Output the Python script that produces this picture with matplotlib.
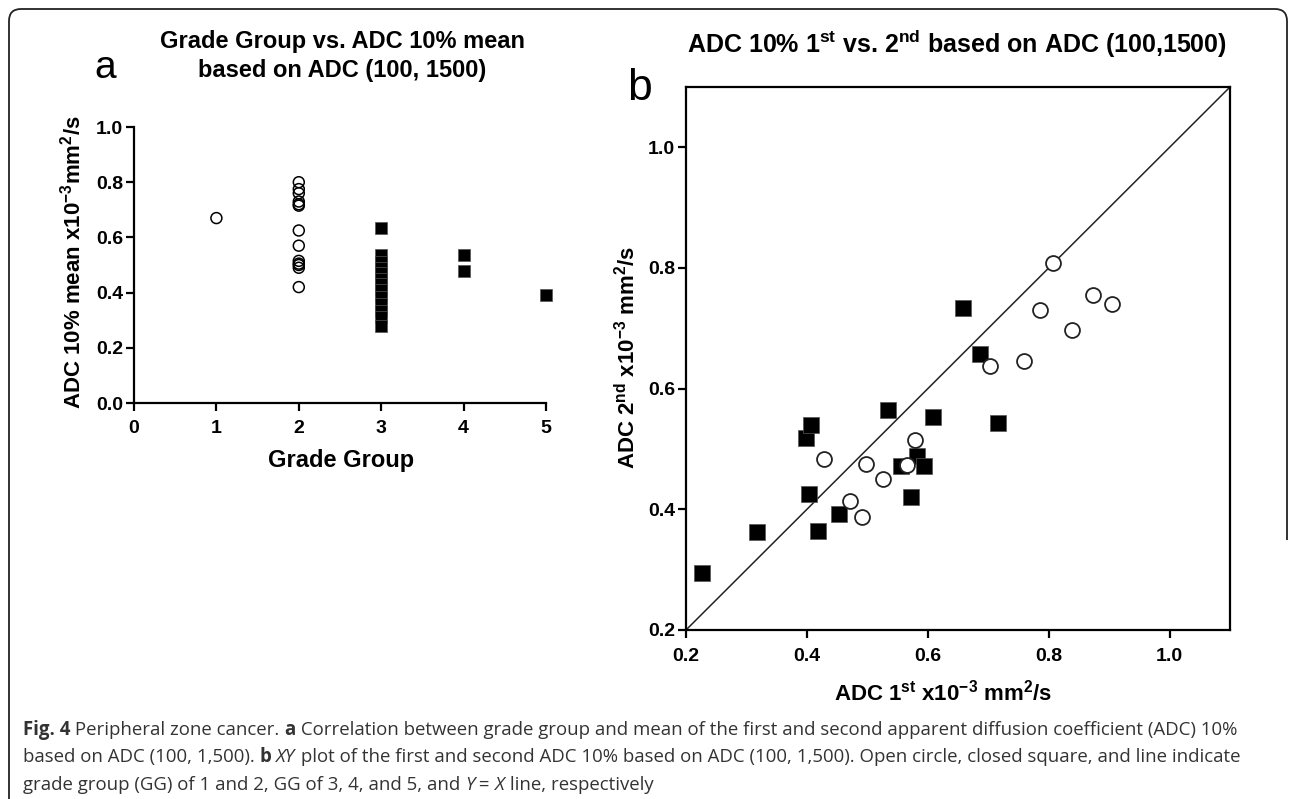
import matplotlib
matplotlib.use("Agg")
import matplotlib.pyplot as plt
from matplotlib.path import Path
from matplotlib.patches import PathPatch

# Panel a: grade group vs. ADC 10% mean
a_circle_group = [1] + [2] * 13
a_circle_adc = [0.67, 0.80, 0.775, 0.76, 0.73, 0.72, 0.715, 0.625, 0.57,
                0.515, 0.505, 0.50, 0.49, 0.42]
a_square_group = [3] * 13 + [4, 4, 5]
a_square_adc = [0.635, 0.535, 0.51, 0.49, 0.47, 0.45, 0.43, 0.41, 0.385,
                0.36, 0.335, 0.31, 0.28, 0.535, 0.48, 0.39]
a_xticks = [0, 1, 2, 3, 4, 5]
a_yticks = [0.0, 0.2, 0.4, 0.6, 0.8, 1.0]

# Panel b: ADC 1st vs 2nd (open circle GG 1-2, closed square GG 3-5)
b_circle_1st = [0.428, 0.471, 0.492, 0.497, 0.526, 0.565, 0.579, 0.703,
                0.759, 0.785, 0.807, 0.838, 0.874, 0.904]
b_circle_2nd = [0.483, 0.414, 0.388, 0.475, 0.451, 0.473, 0.515, 0.637,
                0.646, 0.731, 0.809, 0.697, 0.755, 0.741]
b_square_1st = [0.226, 0.318, 0.399, 0.407, 0.404, 0.419, 0.453, 0.534,
                0.556, 0.572, 0.582, 0.593, 0.608, 0.659, 0.686, 0.716]
b_square_2nd = [0.294, 0.363, 0.519, 0.540, 0.425, 0.364, 0.393, 0.565,
                0.472, 0.421, 0.488, 0.472, 0.553, 0.733, 0.657, 0.543]
b_ticks = [0.2, 0.4, 0.6, 0.8, 1.0]
b_limits = [0.2, 1.1]

caption_lines = [
    [("Fig. 4", "bold", "normal"), (" Peripheral zone cancer. ", "normal", "normal"),
     ("a", "bold", "normal"),
     (" Correlation between grade group and mean of the first and second apparent diffusion coefficient (ADC) 10%",
      "normal", "normal")],
    [("based on ADC (100, 1,500). ", "normal", "normal"), ("b", "bold", "normal"),
     (" ", "normal", "normal"), ("XY", "normal", "italic"),
     (" plot of the first and second ADC 10% based on ADC (100, 1,500). Open circle, closed square, and line indicate",
      "normal", "normal")],
    [("grade group (GG) of 1 and 2, GG of 3, 4, and 5, and ", "normal", "normal"),
     ("Y", "normal", "italic"), (" = ", "normal", "normal"), ("X", "normal", "italic"),
     (" line, respectively", "normal", "normal")],
]

W, H = 1292, 799
plt.rcParams["font.family"] = ["Liberation Sans", "DejaVu Sans"]
plt.rcParams["mathtext.fontset"] = "custom"
plt.rcParams["mathtext.rm"] = "Liberation Sans:bold"
plt.rcParams["mathtext.bf"] = "Liberation Sans:bold"
plt.rcParams["mathtext.it"] = "Liberation Sans:italic:bold"


def fx(x):
    return x / W


def fy(y):
    return 1 - y / H


fig = plt.figure(figsize=(W / 100, H / 100), dpi=100)

# outer frame with rounded top corners
r = 12
verts = [(9, H + 5), (9, 9 + r), (9, 9), (9 + r, 9), (1287 - r, 9), (1287, 9),
         (1287, 9 + r), (1287, 540)]
codes = [Path.MOVETO, Path.LINETO, Path.CURVE3, Path.CURVE3, Path.LINETO,
         Path.CURVE3, Path.CURVE3, Path.LINETO]
frame = Path([(fx(x), fy(y)) for x, y in verts], codes)
fig.add_artist(PathPatch(frame, fill=False, lw=1.3, edgecolor="#222222",
                         transform=fig.transFigure))

# ---- panel a ----
ax0 = fig.add_axes([fx(134), fy(403), (546 - 134) / W, (403 - 127) / H])
ax0.scatter(a_circle_group, a_circle_adc, s=62, marker="o", facecolors="none",
            edgecolors="black", linewidths=1.1, clip_on=False, zorder=3)
ax0.scatter(a_square_group, a_square_adc, s=72, marker="s", color="black",
            linewidths=0.5, edgecolors="#555555", clip_on=False, zorder=3)
ax0.set_xlim(0, 5)
ax0.set_ylim(0, 1.0)
ax0.set_xticks(a_xticks)
ax0.set_yticks(a_yticks)
ax0.set_yticklabels([f"{v:.1f}" for v in a_yticks])
for s in ["top", "right"]:
    ax0.spines[s].set_visible(False)
for s in ["left", "bottom"]:
    ax0.spines[s].set_linewidth(1.6)
ax0.tick_params(direction="out", length=6, width=1.6, labelsize=14, pad=2)
ax0.tick_params(axis="x", pad=6)
for lab in ax0.get_xticklabels() + ax0.get_yticklabels():
    lab.set_fontweight("bold")

fig.text(fx(342), fy(48), "Grade Group vs. ADC 10% mean", ha="center",
         va="baseline", fontsize=17, fontweight="bold")
fig.text(fx(342), fy(77), "based on ADC (100, 1500)", ha="center",
         va="baseline", fontsize=17, fontweight="bold")
fig.text(fx(105), fy(78), "a", ha="center", va="baseline", fontsize=28)
fig.text(fx(73), fy(262), r"ADC 10% mean x10$^{-3}$mm$^{2}$/s", rotation=90,
         ha="center", va="center", fontsize=16, fontweight="bold")
fig.text(fx(341), fy(460), "Grade Group", ha="center", va="center",
         fontsize=17, fontweight="bold")

# ---- panel b ----
ax1 = fig.add_axes([fx(686), fy(630), (1230 - 686) / W, (630 - 87) / H])
ax1.plot(b_limits, b_limits, color="#222222", lw=1.1, zorder=2)
ax1.scatter(b_square_1st, b_square_2nd, s=120, marker="s", color="black",
            linewidths=0.5, edgecolors="#555555", zorder=3)
ax1.scatter(b_circle_1st, b_circle_2nd, s=115, marker="o", facecolors="white",
            edgecolors="#222222", linewidths=1.3, zorder=4)
ax1.set_xlim(b_limits)
ax1.set_ylim(b_limits)
ax1.set_xticks(b_ticks)
ax1.set_yticks(b_ticks)
ax1.set_xticklabels([f"{v:.1f}" for v in b_ticks])
ax1.set_yticklabels([f"{v:.1f}" for v in b_ticks])
for s in ax1.spines.values():
    s.set_linewidth(1.6)
ax1.tick_params(direction="out", length=6, width=1.6, labelsize=14, pad=2)
ax1.tick_params(axis="x", pad=7)
for lab in ax1.get_xticklabels() + ax1.get_yticklabels():
    lab.set_fontweight("bold")

fig.text(fx(957), fy(53),
         r"ADC 10% 1$^{\mathrm{st}}$ vs. 2$^{\mathrm{nd}}$ based on ADC (100,1500)",
         ha="center", va="baseline", fontsize=18, fontweight="bold")
fig.text(fx(640), fy(100), "b", ha="center", va="baseline", fontsize=32)
fig.text(fx(628), fy(357), r"ADC 2$^{\mathrm{nd}}$ x10$^{-3}$ mm$^{2}$/s", rotation=90,
         ha="center", va="center", fontsize=16, fontweight="bold")
fig.text(fx(943), fy(693), r"ADC 1$^{\mathrm{st}}$ x10$^{-3}$ mm$^{2}$/s", ha="center",
         va="center", fontsize=16, fontweight="bold")

# ---- caption, drawn run by run ----
renderer = fig.canvas.get_renderer()
cap_kw = dict(fontsize=13.45, family=["Open Sans", "DejaVu Sans"], color="#333333")


def run_width(text, weight, style):
    # measure with guard characters so edge spaces count
    t1 = fig.text(0, 0, "|" + text + "|", fontweight=weight, style=style, **cap_kw)
    t2 = fig.text(0, 0, "||", fontweight=weight, style=style, **cap_kw)
    w = t1.get_window_extent(renderer).width - t2.get_window_extent(renderer).width
    t1.remove()
    t2.remove()
    return w


baselines = [735, 762, 790]
for line, base in zip(caption_lines, baselines):
    x = 23
    for text, weight, style in line:
        fig.text(fx(x), fy(base), text, ha="left", va="baseline",
                 fontweight=weight, style=style, **cap_kw)
        x += run_width(text, weight, style)

fig.savefig("out.png", dpi=100)
